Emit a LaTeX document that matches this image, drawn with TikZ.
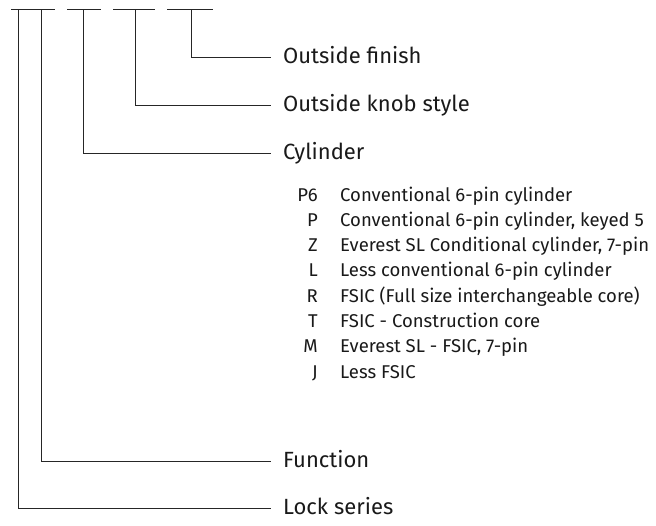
\documentclass[tikz,border=0pt]{standalone}
\usepackage{fontspec}
\setmainfont{Fira Sans}
\begin{document}
\begin{tikzpicture}[x=1pt,y=-1pt,
  bar/.style={line width=0.9pt,color=black!85},
  head/.style={anchor=west,inner sep=0pt,text height=15pt,text depth=3pt,text=black!90,font=\fontsize{22}{26}\selectfont},
  code/.style={anchor=base east,inner sep=0pt,text=black!90,font=\fontsize{18.5}{22}\selectfont},
  desc/.style={anchor=base west,inner sep=0pt,text=black!90,font=\fontsize{18.5}{22}\selectfont}]
\newcommand\labelx{283}
\newcommand\stubgap{12}
\useasboundingbox (0,0) rectangle (656,525);

% top bars
\draw[bar] (11,9) -- (55,9);
\draw[bar] (67,9) -- (101,9);
\draw[bar] (113,9) -- (155,9);
\draw[bar] (167,9) -- (213,9);
\coordinate (seriestop) at (18,9);
\coordinate (functop) at (41,9);
\coordinate (cyltop) at (83,9);
\coordinate (knobtop) at (135,9);
\coordinate (finishtop) at (191,9);

% labels
\node[head] (finish) at (\labelx,57) {Outside finish};
\node[head] (knob) at (\labelx,105) {Outside knob style};
\node[head] (cyl) at (\labelx,153) {Cylinder};
\node[head] (func) at (\labelx,461) {Function};
\node[head] (series) at (\labelx,508) {Lock series};

\draw[bar] (finishtop) |- ([xshift=-\stubgap pt]finish.west);
\draw[bar] (knobtop) |- ([xshift=-\stubgap pt]knob.west);
\draw[bar] (cyltop) |- ([xshift=-\stubgap pt]cyl.west);
\draw[bar] (functop) |- ([xshift=-\stubgap pt]func.west);
\draw[bar] (seriestop) |- ([xshift=-\stubgap pt]series.west);

% cylinder codes
\foreach \code/\desc [count=\i from 0] in {P6/Conventional 6-pin cylinder,
    P/{Conventional 6-pin cylinder, keyed 5},
    Z/{Everest SL Conditional cylinder, 7-pin},
    L/Less conventional 6-pin cylinder,
    R/FSIC (Full size interchangeable core),
    T/FSIC - Construction core,
    M/{Everest SL - FSIC, 7-pin},
    J/Less FSIC} {
  \node[code] (code\i) at (318,201+25.3*\i) {\code};
  \node[desc] (desc\i) at (340,201+25.3*\i) {\desc};
}
\end{tikzpicture}
\end{document}
